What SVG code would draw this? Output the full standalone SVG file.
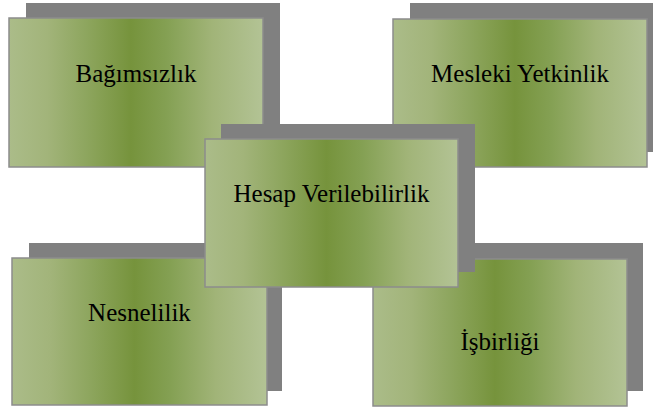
<svg xmlns="http://www.w3.org/2000/svg" width="653" height="407" viewBox="0 0 653 407">
<defs>
<linearGradient id="moss" x1="0" y1="0" x2="1" y2="0">
<stop offset="0" stop-color="#abbc89"/>
<stop offset="0.15" stop-color="#a2b47a"/>
<stop offset="0.3" stop-color="#8ea65f"/>
<stop offset="0.48" stop-color="#76933c"/>
<stop offset="0.62" stop-color="#84a053"/>
<stop offset="0.8" stop-color="#a1b478"/>
<stop offset="1" stop-color="#b3c395"/>
</linearGradient>
</defs>
<style>
.sh{fill:#808080}
.bx{fill:url(#moss);stroke:#8c8c8c;stroke-width:1.5}
.lb{font-family:"Liberation Serif","Times New Roman",serif;font-size:25px;fill:#000;text-anchor:middle}
</style>
<g id="connectors"/>
<g id="bagimsizlik">
<rect class="sh" x="26" y="3" width="254" height="149"/>
<rect class="bx" x="9" y="18" width="254" height="149"/>
<text class="lb" x="136" y="82">Bağımsızlık</text>
</g>
<g id="mesleki-yetkinlik">
<rect class="sh" x="410" y="3" width="254" height="149"/>
<rect class="bx" x="393" y="19" width="254" height="148"/>
<text class="lb" x="520" y="82">Mesleki Yetkinlik</text>
</g>
<g id="nesnelilik">
<rect class="sh" x="29" y="243" width="253" height="148"/>
<rect class="bx" x="12" y="258" width="255" height="147"/>
<text class="lb" x="139.5" y="321">Nesnelilik</text>
</g>
<g id="isbirligi">
<rect class="sh" x="390" y="243" width="253" height="148"/>
<rect class="bx" x="373" y="259" width="254" height="147"/>
<text class="lb" x="500" y="350">İşbirliği</text>
</g>
<g id="hesap-verilebilirlik">
<rect class="sh" x="221" y="124" width="254" height="148"/>
<rect class="bx" x="205" y="139" width="253" height="148"/>
<text class="lb" x="331.5" y="202">Hesap Verilebilirlik</text>
</g>
</svg>
